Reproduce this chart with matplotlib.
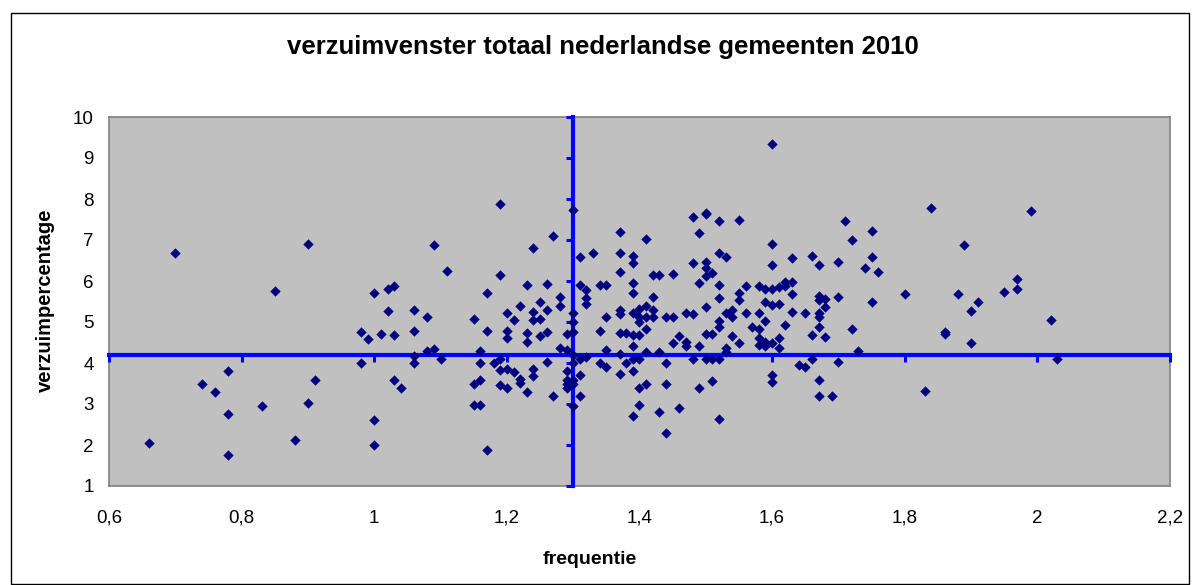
#!/usr/bin/env python3
"""Absenteeism window (frequency vs percentage) for Dutch municipalities, 2010."""

import matplotlib as mpl

mpl.use("Agg")
import matplotlib.pyplot as plt
from matplotlib.patches import Rectangle
from matplotlib.ticker import FuncFormatter

TITLE = "verzuimvenster totaal nederlandse gemeenten 2010"
X_LABEL = "frequentie"
Y_LABEL = "verzuimpercentage"

X_TICKS = [0.6, 0.8, 1.0, 1.2, 1.4, 1.6, 1.8, 2.0, 2.2]
Y_TICKS = [1, 2, 3, 4, 5, 6, 7, 8, 9, 10]

# averages that the blue cross marks
MEAN_FREQ = 1.3
MEAN_PCT = 4.2

FREQ = [
    0.70, 0.90, 0.85, 1.00, 0.98, 0.99, 1.01, 0.98, 0.78, 0.74, 0.76, 0.91, 0.83, 0.90, 0.78, 1.00, 0.66, 0.88, 0.78, 1.00,
    1.02, 1.03, 1.02, 1.03, 1.09, 1.11, 1.19, 1.19, 1.06, 1.08, 1.06, 1.17, 1.15, 1.17, 1.08, 1.09, 1.06, 1.06, 1.10, 1.16,
    1.16, 1.18, 1.19, 1.19, 1.19, 1.03, 1.04, 1.15, 1.16, 1.15, 1.16, 1.17,
    1.30, 1.27, 1.24, 1.31, 1.33, 1.23, 1.26, 1.31, 1.32, 1.34, 1.28, 1.32, 1.32, 1.22, 1.25, 1.26, 1.28, 1.20, 1.21, 1.24,
    1.24, 1.25, 1.30, 1.30,
    1.20, 1.20, 1.23, 1.23, 1.25, 1.26, 1.29, 1.30, 1.34, 1.28, 1.29, 1.30, 1.20, 1.21, 1.26, 1.24, 1.24, 1.22, 1.22, 1.20,
    1.23, 1.27, 1.30, 1.29, 1.31, 1.32, 1.31, 1.29, 1.29, 1.29, 1.30, 1.30, 1.31, 1.30, 1.34, 1.35,
    1.48, 1.50, 1.37, 1.41, 1.49, 1.37, 1.39, 1.39, 1.37, 1.42, 1.43, 1.45, 1.48, 1.49, 1.35, 1.39, 1.39, 1.42, 1.41, 1.42,
    1.37, 1.37, 1.35, 1.39, 1.40, 1.40, 1.40, 1.41, 1.42, 1.44, 1.45, 1.47, 1.48,
    1.37, 1.38, 1.39, 1.40, 1.41, 1.39, 1.37, 1.41, 1.43, 1.45, 1.46, 1.47, 1.47, 1.49, 1.35, 1.38, 1.39, 1.40, 1.39, 1.37,
    1.44, 1.48, 1.40, 1.41, 1.44, 1.49, 1.40, 1.39, 1.43, 1.46, 1.44,
    1.60, 1.50, 1.52, 1.55, 1.60, 1.63, 1.52, 1.53, 1.60, 1.50, 1.50, 1.50, 1.51, 1.52, 1.56, 1.55, 1.55, 1.52, 1.58, 1.59,
    1.60, 1.61, 1.62, 1.62, 1.63, 1.63, 1.50, 1.53, 1.54, 1.54, 1.56, 1.58, 1.59, 1.60, 1.61, 1.59, 1.63, 1.52, 1.65,
    1.52, 1.50, 1.51, 1.54, 1.55, 1.57, 1.58, 1.58, 1.58, 1.59, 1.59, 1.60, 1.61, 1.61, 1.62, 1.53, 1.53, 1.50, 1.51, 1.52,
    1.60, 1.60, 1.51, 1.52, 1.64, 1.65,
    1.84, 1.71, 1.75, 1.72, 1.66, 1.67, 1.70, 1.75, 1.74, 1.76, 1.80, 1.67, 1.67, 1.68, 1.68, 1.70, 1.75, 1.67, 1.67, 1.67,
    1.66, 1.68, 1.72, 1.73, 1.86, 1.86, 1.66, 1.70, 1.67, 1.67, 1.69, 1.83,
    1.99, 1.89, 1.97, 1.97, 1.95, 1.88, 1.91, 1.90, 2.02, 1.90, 2.03,
]

PCT = [
    6.68, 6.90, 5.76, 5.71, 4.76, 4.59, 4.70, 3.99, 3.80, 3.49, 3.29, 3.59, 2.95, 3.02, 2.76, 2.60, 2.04, 2.13, 1.75, 2.01,
    5.80, 5.89, 5.26, 4.69, 6.88, 6.24, 7.89, 6.15, 5.29, 5.11, 4.79, 5.71, 5.07, 4.79, 4.29, 4.35, 4.16, 3.99, 4.10, 4.29,
    3.99, 3.99, 4.10, 3.84, 3.46, 3.59, 3.39, 3.49, 3.59, 2.98, 2.98, 1.88,
    7.73, 7.09, 6.81, 6.59, 6.69, 5.90, 5.93, 5.90, 5.78, 5.90, 5.62, 5.59, 5.45, 5.40, 5.48, 5.29, 5.40, 5.21, 5.05, 5.24,
    5.05, 5.07, 5.21, 5.01,
    4.78, 4.60, 4.72, 4.52, 4.67, 4.76, 4.70, 4.75, 4.78, 4.37, 4.32, 4.20, 3.85, 3.77, 4.03, 3.85, 3.69, 3.61, 3.52, 3.40,
    3.29, 3.20, 3.99, 3.80, 4.09, 4.15, 3.71, 3.59, 3.49, 3.38, 3.49, 3.59, 3.20, 2.95, 3.99, 4.32,
    7.57, 7.65, 7.19, 7.03, 7.16, 6.69, 6.62, 6.43, 6.21, 6.15, 6.15, 6.17, 6.43, 5.96, 5.90, 5.96, 5.70, 5.62, 5.40, 5.29,
    5.29, 5.20, 5.11, 5.23, 5.31, 5.13, 5.01, 5.13, 5.13, 5.11, 5.11, 5.23, 5.20,
    4.72, 4.74, 4.68, 4.68, 4.82, 4.41, 4.21, 4.28, 4.28, 4.50, 4.66, 4.52, 4.41, 4.41, 3.91, 4.01, 4.09, 4.09, 3.81, 3.72,
    4.01, 4.09, 3.40, 3.50, 3.50, 3.40, 2.98, 2.71, 2.80, 2.90, 2.29,
    9.34, 7.63, 7.47, 7.50, 6.90, 6.56, 6.69, 6.59, 6.40, 6.47, 6.31, 6.11, 6.19, 5.90, 5.89, 5.70, 5.54, 5.58, 5.89, 5.80,
    5.80, 5.86, 5.89, 5.98, 5.98, 5.68, 5.36, 5.23, 5.29, 5.13, 5.23, 5.23, 5.49, 5.41, 5.43, 5.03, 5.24, 5.03, 5.23,
    4.87, 4.70, 4.70, 4.67, 4.50, 4.87, 4.83, 4.60, 4.44, 4.52, 4.41, 4.50, 4.60, 4.36, 4.93, 4.36, 4.28, 4.09, 4.09, 4.09,
    3.71, 3.54, 3.56, 2.63, 3.95, 3.91,
    7.79, 7.47, 7.23, 7.00, 6.62, 6.40, 6.46, 6.59, 6.31, 6.21, 5.68, 5.63, 5.54, 5.55, 5.37, 5.61, 5.48, 5.21, 5.13, 4.89,
    4.69, 4.63, 4.82, 4.29, 4.71, 4.76, 4.09, 4.02, 3.59, 3.20, 3.20, 3.32,
    7.70, 6.88, 6.05, 5.80, 5.74, 5.68, 5.48, 5.26, 5.04, 4.50, 4.09,
]

plt.rcParams["font.family"] = ["Liberation Sans", "DejaVu Sans"]

W, H = 1192, 585
fig = plt.figure(figsize=(W / 100, H / 100), dpi=100, facecolor="white")

# outer chart border
fig.patches.append(Rectangle((11 / W, 1 / H), 1178 / W, 571 / H, transform=fig.transFigure,
                             fill=False, edgecolor="black", linewidth=1.0))

rect = (109 / W, 1 - 486 / H, 1061 / W, 369 / H)
ax = fig.add_axes(rect, facecolor="#c0c0c0")
ax.set_xlim(0.6, 2.2)
ax.set_ylim(1, 10)
ax.set_xticks(X_TICKS)
ax.set_yticks(Y_TICKS)
ax.xaxis.set_major_formatter(FuncFormatter(lambda v, _: f"{v:g}".replace(".", ",")))
ax.tick_params(axis="both", length=0, labelsize=13.5, colors="black")
ax.tick_params(axis="x", pad=17)
ax.tick_params(axis="y", pad=11)
for spine in ax.spines.values():
    spine.set_color("#808080")
    spine.set_linewidth(1.2)

# overlay axes: blue cross through the averages, points on top
ov = fig.add_axes(rect, facecolor="none", sharex=ax, sharey=ax)
ov.spines["top"].set_visible(False)
ov.spines["right"].set_visible(False)
ov.spines["left"].set_position(("data", MEAN_FREQ))
ov.spines["bottom"].set_position(("data", MEAN_PCT))
for side in ("left", "bottom"):
    ov.spines[side].set_color("#0000ff")
    ov.spines[side].set_linewidth(3.0)
ov.tick_params(axis="both", direction="out", length=5, width=2.2, color="#0000ff",
               labelbottom=False, labelleft=False)
ov.scatter(FREQ, PCT, marker="D", s=28, color="#000080", linewidths=0, zorder=3, clip_on=False)

fig.text(603 / W, 1 - 47 / H, TITLE, ha="center", va="center", fontsize=18.5, fontweight="bold")
fig.text(590 / W, 1 - 560 / H, X_LABEL, ha="center", va="center", fontsize=14, fontweight="bold")
fig.text(45 / W, 1 - 300 / H, Y_LABEL, ha="center", va="center", rotation=90, fontsize=14.5,
         fontweight="bold")

fig.savefig("out.png", dpi=100, facecolor="white")
